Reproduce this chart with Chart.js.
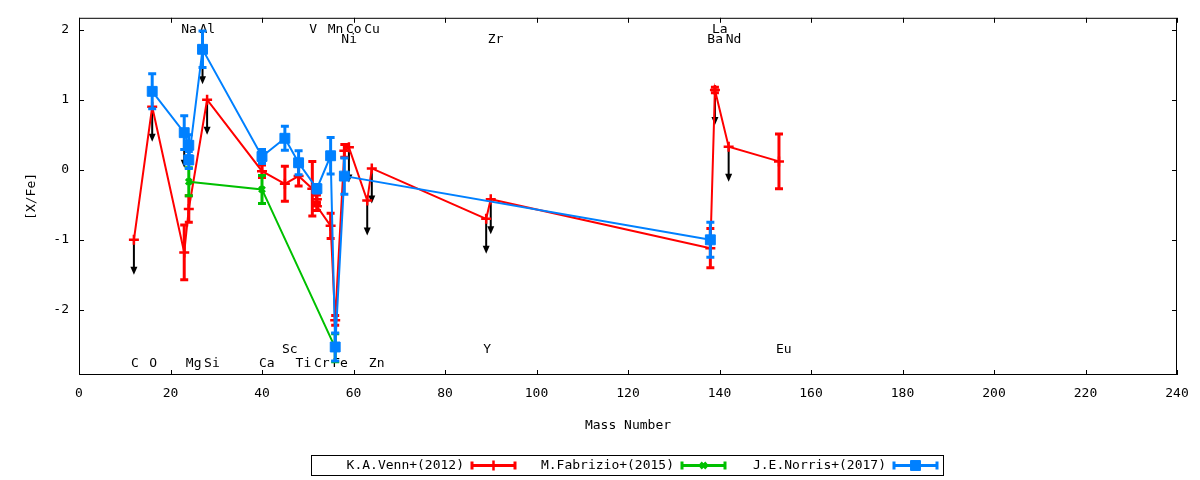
<!DOCTYPE html>
<html>
<head>
<meta charset="utf-8">
<title>[X/Fe] vs Mass Number</title>
<script src="https://cdn.jsdelivr.net/npm/chart.js@4.4.1/dist/chart.umd.min.js"></script>
<style>
  html, body { margin: 0; padding: 0; background: #fff; }
  #wrap { width: 1200px; height: 480px; }
</style>
</head>
<body>
<div id="wrap"><canvas id="chart" width="1200" height="480"></canvas></div>
<script>
const FONT = '"DejaVu Sans Mono", "Liberation Mono", monospace';

// K.A.Venn+(2012)
const vennMass  = [12, 16, 23, 24, 28, 40, 45, 48, 51, 52, 52, 55, 56, 58, 59, 63, 64, 89, 90, 138, 139, 142, 153];
const vennVal   = [-1.0, 0.9, -1.18, -0.56, 1.0, -0.02, -0.2, -0.09, -0.27, -0.42, -0.52, -0.8, -2.15, 0.27, 0.32, -0.44, 0.02, -0.7, -0.42, -1.12, 1.14, 0.33, 0.12];
const vennErr   = [0, 0, 0.39, 0.19, 0, 0.09, 0.25, 0.14, 0.39, 0.06, 0.06, 0.18, 0.07, 0.09, 0, 0, 0, 0, 0, 0.28, 0.04, 0, 0.39];
const vennLimit = [1, 1, 0, 0, 1, 0, 0, 0, 0, 0, 0, 0, 0, 0, 1, 1, 1, 1, 1, 0, 1, 1, 0];

// M.Fabrizio+(2015)
const fabMass  = [24, 40, 56];
const fabVal   = [-0.17, -0.28, -2.54];
const fabErr   = [0.2, 0.2, 0.2];
const fabLimit = [0, 0, 0];

// J.E.Norris+(2017)
const norMass  = [16, 23, 24, 24, 27, 40, 45, 48, 52, 55, 56, 58, 138];
const norVal   = [1.12, 0.53, 0.35, 0.14, 1.72, 0.19, 0.45, 0.10, -0.27, 0.20, -2.53, -0.09, -1.0];
const norErr   = [0.25, 0.24, 0.15, 0.12, 0.26, 0.1, 0.17, 0.17, 0.06, 0.26, 0.2, 0.26, 0.25];
const norLimit = [0, 1, 0, 0, 1, 0, 0, 0, 0, 0, 0, 0, 0];

// element labels
const elemNames = ['C', 'O', 'Na', 'Mg', 'Al', 'Si', 'Ca', 'Sc', 'Ti', 'V', 'Cr', 'Mn', 'Fe', 'Co', 'Ni', 'Cu', 'Zn', 'Y', 'Zr', 'Ba', 'La', 'Nd', 'Eu'];
const elemMass  = [12, 16, 23, 24, 27, 28, 40, 45, 48, 51, 52, 55, 56, 59, 58, 63, 64, 89, 90, 138, 139, 142, 153];
const elemRow   = ['b1', 'b1', 't1', 'b1', 't1', 'b1', 'b1', 'b2', 'b1', 't1', 'b1', 't1', 'b1', 't1', 't2', 't1', 'b1', 'b2', 't2', 't2', 't1', 't2', 'b2'];

const xTicks = [0, 20, 40, 60, 80, 100, 120, 140, 160, 180, 200, 220, 240];
const yTicks = [-2, -1, 0, 1, 2];

const ARROW_LEN = 0.5;  // length of upper-limit arrows, dex
const ROW_Y = { t1: 2.0, t2: 1.86, b1: -2.77, b2: -2.57 };

const series = [
  { label: 'K.A.Venn+(2012)',   mass: vennMass, val: vennVal, err: vennErr, limit: vennLimit,
    color: '#ff0000', style: 'cross',    radius: 5, bw: 2.5 },
  { label: 'M.Fabrizio+(2015)', mass: fabMass,  val: fabVal,  err: fabErr,  limit: fabLimit,
    color: '#00c000', style: 'crossRot', radius: 4, bw: 3 },
  { label: 'J.E.Norris+(2017)', mass: norMass,  val: norVal,  err: norErr,  limit: norLimit,
    color: '#0080ff', style: 'rect',     radius: 7, bw: 1 }
];

const decor = {
  id: 'decor',
  beforeDatasetsDraw(chart) {
    const { ctx, chartArea: a, scales: { x, y } } = chart;
    ctx.save();

    // frame + inward ticks on all four sides
    ctx.strokeStyle = '#000';
    ctx.lineWidth = 1;
    ctx.strokeRect(a.left + 0.5, a.top + 0.5, a.right - a.left - 1, a.bottom - a.top - 1);
    ctx.beginPath();
    xTicks.forEach(v => {
      const px = Math.round(x.getPixelForValue(v)) + 0.5;
      ctx.moveTo(px, a.bottom); ctx.lineTo(px, a.bottom - 5);
      ctx.moveTo(px, a.top); ctx.lineTo(px, a.top + 5);
    });
    yTicks.forEach(v => {
      const py = Math.round(y.getPixelForValue(v)) + 0.5;
      ctx.moveTo(a.left, py); ctx.lineTo(a.left + 5, py);
      ctx.moveTo(a.right, py); ctx.lineTo(a.right - 5, py);
    });
    ctx.stroke();

    // element labels
    ctx.fillStyle = '#000';
    ctx.font = '13px ' + FONT;
    ctx.textAlign = 'left';
    ctx.textBaseline = 'middle';
    elemNames.forEach((n, i) => {
      ctx.fillText(n, x.getPixelForValue(elemMass[i]) - 3, y.getPixelForValue(ROW_Y[elemRow[i]]));
    });

    // upper-limit arrows
    ctx.lineWidth = 2;
    series.forEach(s => s.mass.forEach((m, i) => {
      if (!s.limit[i]) return;
      const px = x.getPixelForValue(m);
      const y0 = y.getPixelForValue(s.val[i]);
      const y1 = y.getPixelForValue(s.val[i] - ARROW_LEN);
      ctx.beginPath();
      ctx.moveTo(px, y0); ctx.lineTo(px, y1 - 5);
      ctx.stroke();
      ctx.beginPath();
      ctx.moveTo(px, y1); ctx.lineTo(px - 3.5, y1 - 8); ctx.lineTo(px + 3.5, y1 - 8);
      ctx.closePath();
      ctx.fill();
    }));
    ctx.restore();
  },
  beforeDatasetDraw(chart, args) {
    const { ctx, chartArea: a, scales: { x, y } } = chart;
    const s = series[args.index];
    ctx.save();
    ctx.beginPath();
    ctx.rect(a.left, a.top, a.right - a.left, a.bottom - a.top);
    ctx.clip();
    ctx.strokeStyle = s.color;
    ctx.lineWidth = 3;
    s.mass.forEach((m, i) => {
      if (!s.err[i]) return;
      const px = x.getPixelForValue(m);
      const yt = y.getPixelForValue(s.val[i] + s.err[i]);
      const yb = y.getPixelForValue(s.val[i] - s.err[i]);
      ctx.beginPath();
      ctx.moveTo(px, yt); ctx.lineTo(px, yb);
      ctx.moveTo(px - 4, yt); ctx.lineTo(px + 4, yt);
      ctx.moveTo(px - 4, yb); ctx.lineTo(px + 4, yb);
      ctx.stroke();
    });
    ctx.restore();
  },
  afterDraw(chart) {
    const { ctx } = chart;
    ctx.save();
    // legend box
    ctx.strokeStyle = '#000';
    ctx.lineWidth = 1;
    ctx.strokeRect(311.5, 455.5, 632, 20);
    const textRight = [464, 674, 886];
    const midY = 465.5;
    ctx.font = '13px ' + FONT;
    ctx.textAlign = 'right';
    ctx.textBaseline = 'middle';
    series.forEach((s, i) => {
      ctx.fillStyle = '#000';
      ctx.fillText(s.label, textRight[i], midY);
      const x1 = textRight[i] + 8, x2 = x1 + 43;
      ctx.strokeStyle = s.color;
      ctx.fillStyle = s.color;
      ctx.lineWidth = 3;
      ctx.beginPath();
      ctx.moveTo(x1, midY); ctx.lineTo(x2, midY);
      ctx.moveTo(x1, midY - 4); ctx.lineTo(x1, midY + 4);
      ctx.moveTo(x2, midY - 4); ctx.lineTo(x2, midY + 4);
      ctx.stroke();
      ctx.lineWidth = s.bw;
      Chart.helpers.drawPoint(ctx, { pointStyle: s.style, radius: s.radius, rotation: 0, borderWidth: s.bw }, (x1 + x2) / 2, midY);
    });
    ctx.restore();
  }
};

new Chart(document.getElementById('chart'), {
  type: 'scatter',
  data: {
    datasets: series.map((s, i) => ({
      label: s.label,
      data: s.mass.map((m, j) => ({ x: m, y: s.val[j] })),
      showLine: true,
      borderColor: s.color,
      backgroundColor: s.color,
      borderWidth: 2,
      pointStyle: s.style,
      pointRadius: s.radius,
      pointBorderWidth: s.bw,
      pointBackgroundColor: s.color,
      pointBorderColor: s.color,
      order: series.length - i
    }))
  },
  options: {
    responsive: false,
    animation: false,
    devicePixelRatio: 1,
    layout: { padding: { left: 20, right: 23, top: 17, bottom: 43 } },
    plugins: {
      legend: { display: false },
      tooltip: { enabled: false }
    },
    scales: {
      x: {
        type: 'linear',
        min: 0,
        max: 240,
        afterBuildTicks: s => { s.ticks = xTicks.map(v => ({ value: v })); },
        afterFit: s => { s.height = 62; },
        grid: { display: false, drawTicks: false },
        border: { display: false },
        ticks: { color: '#000', font: { family: FONT, size: 13 }, padding: 11, maxRotation: 0, autoSkip: false },
        title: { display: true, text: 'Mass Number', color: '#000', font: { family: FONT, size: 13 } }
      },
      y: {
        type: 'linear',
        min: -2.93,
        max: 2.17,
        afterBuildTicks: s => { s.ticks = yTicks.map(v => ({ value: v })); },
        afterFit: s => { s.width = 59; },
        grid: { display: false, drawTicks: false },
        border: { display: false },
        ticks: { color: '#000', font: { family: FONT, size: 13 }, padding: 10, callback: v => String(v) },
        title: { display: true, text: '[X/Fe]', color: '#000', font: { family: FONT, size: 13 } }
      }
    }
  },
  plugins: [decor]
});
</script>
</body>
</html>
